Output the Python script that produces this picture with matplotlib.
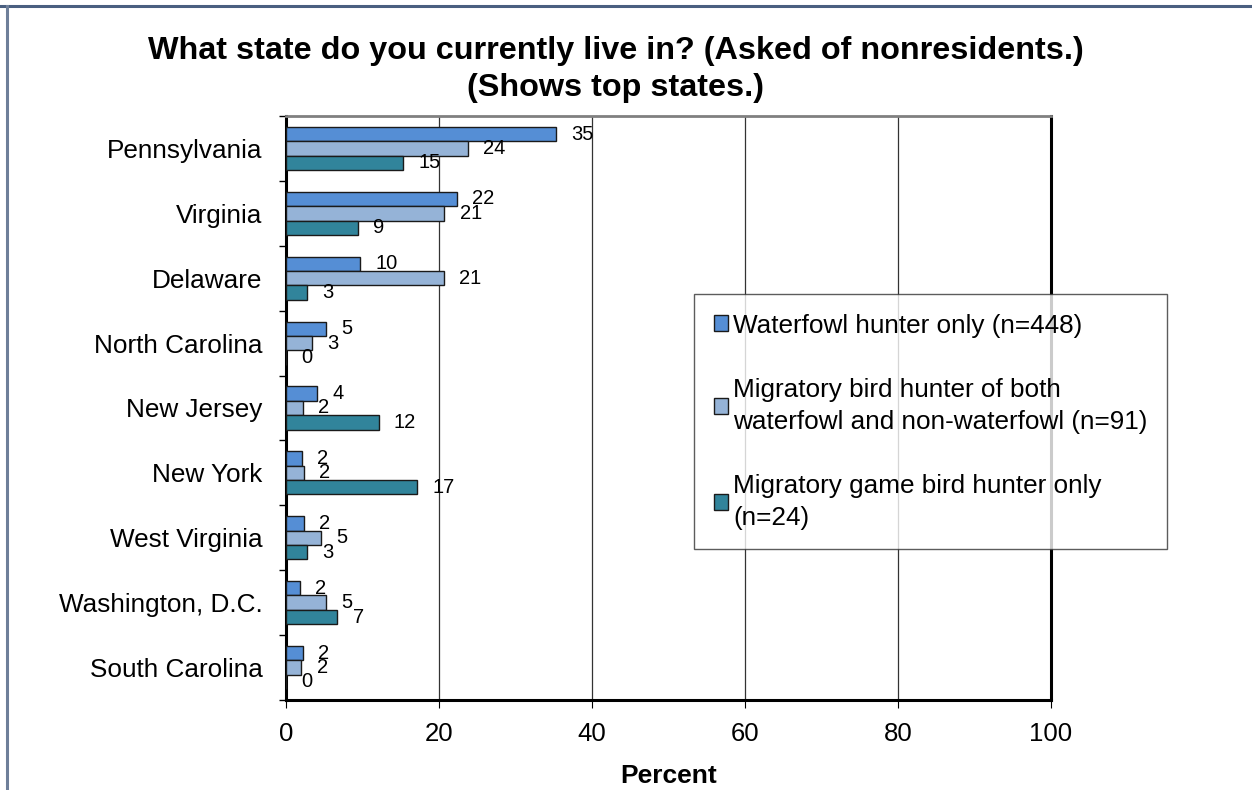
import matplotlib.pyplot as plt
from matplotlib.lines import Line2D
import numpy as np

plt.rcParams['font.family'] = ['Liberation Sans', 'DejaVu Sans']

states = ['Pennsylvania', 'Virginia', 'Delaware', 'North Carolina', 'New Jersey',
          'New York', 'West Virginia', 'Washington, D.C.', 'South Carolina']
waterfowl = [35.3, 22.3, 9.7, 5.2, 4.1, 2.1, 2.3, 1.8, 2.2]
both = [23.8, 20.7, 20.6, 3.4, 2.2, 2.3, 4.6, 5.2, 2.0]
gamebird = [15.3, 9.4, 2.8, 0.0, 12.1, 17.1, 2.8, 6.7, 0.0]
series_names = ['Waterfowl hunter only (n=448)',
                'Migratory bird hunter of both\nwaterfowl and non-waterfowl (n=91)',
                'Migratory game bird hunter only\n(n=24)']
colors = ['#558ED5', '#95B3D7', '#31849B']

fig = plt.figure(figsize=(12.52, 7.9), dpi=100)
W, H = 1252, 790
ax = fig.add_axes([286 / W, 1 - 700 / H, (1051 - 286) / W, (700 - 116) / H])

y = np.arange(len(states))
bh = 0.222
for i, (vals, c, name) in enumerate(zip([waterfowl, both, gamebird], colors, series_names)):
    pos = y + (i - 1) * bh
    ax.barh(pos, vals, height=bh, color=c, edgecolor='#1a1a1a', linewidth=1.0,
            label=name, zorder=3)
    for p, v in zip(pos, vals):
        ax.annotate(f'{v:.0f}', (v, p), xytext=(11, 0), textcoords='offset points',
                    ha='left', va='center', fontsize=14.5, zorder=4)

ax.set_xlim(0, 100)
ax.set_ylim(len(states) - 0.5, -0.5)
ax.set_xticks([0, 20, 40, 60, 80, 100])
ax.tick_params(axis='x', labelsize=18.5, length=6, width=0.8, pad=10, direction='out')
ax.set_yticks(y)
ax.set_yticklabels(states)
ax.set_yticks(np.arange(len(states) + 1) - 0.5, minor=True)
ax.tick_params(axis='y', which='major', length=0, labelsize=18.8, pad=17)
ax.tick_params(axis='y', which='minor', length=5, width=1.0)
ax.grid(axis='x', color='#333333', linewidth=0.9, zorder=0)
for s in ['left', 'bottom', 'right']:
    ax.spines[s].set_linewidth(2.2)
    ax.spines[s].set_color('black')
ax.spines['top'].set_linewidth(2.0)
ax.spines['top'].set_color('#808080')
ax.set_xlabel('Percent', fontsize=19, fontweight='bold', labelpad=13)

fig.text(0.4916, 1 - 51 / H, 'What state do you currently live in? (Asked of nonresidents.)',
         ha='center', va='center', fontsize=23.3, fontweight='bold')
fig.text(0.4916, 1 - 88 / H, '(Shows top states.)',
         ha='center', va='center', fontsize=23.3, fontweight='bold')

leg = ax.legend(loc='upper left', bbox_to_anchor=(694 / W, 1 - 294 / H),
                bbox_transform=fig.transFigure, fontsize=18.8, frameon=True,
                fancybox=False, edgecolor='#333333', handlelength=0.55,
                handleheight=0.55, handletextpad=0.2, labelspacing=1.55,
                borderpad=0.75, borderaxespad=0)
for t in leg.get_texts():
    t.set_linespacing(1.4)
leg.get_frame().set_linewidth(1.0)

# page frame lines
fig.add_artist(Line2D([0, 1], [1 - 6 / H, 1 - 6 / H], transform=fig.transFigure,
                      color='#4a5f80', linewidth=2.2))
fig.add_artist(Line2D([7 / W, 7 / W], [0, 1 - 6 / H], transform=fig.transFigure,
                      color='#6e7f99', linewidth=2.2))

fig.savefig('out.png', dpi=100, facecolor='white')
